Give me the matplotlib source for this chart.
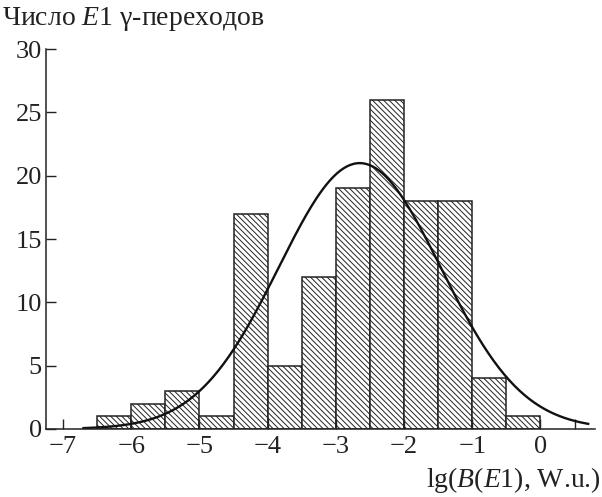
import numpy as np
import matplotlib
matplotlib.use('Agg')
import matplotlib.pyplot as plt

# histogram of lg(B(E1)) in bins of 0.5
bin_edges = [-6.5, -6.0, -5.5, -5.0, -4.5, -4.0, -3.5, -3.0, -2.5, -2.0, -1.5, -1.0, -0.5, 0.0]
counts = [1, 2, 3, 1, 17, 5, 12, 19, 26, 18, 18, 4, 1]

# fitted gaussian
fit_amp = 21.0
fit_mean = -2.65
fit_sigma = 1.19
fit_range = (-6.7, 0.7)

plt.rcParams['font.family'] = ['Liberation Serif', 'DejaVu Serif']
plt.rcParams['mathtext.fontset'] = 'custom'
plt.rcParams['mathtext.rm'] = 'Liberation Serif'
plt.rcParams['mathtext.it'] = 'Liberation Serif:italic'
plt.rcParams['hatch.linewidth'] = 0.7

fig = plt.figure(figsize=(6.02, 4.97), dpi=100)
ax = fig.add_axes([0.0764, 0.137, 0.912, 0.764])

left = bin_edges[:-1]
widths = np.diff(bin_edges)
ax.bar(left, counts, width=widths, align='edge', color='white',
       edgecolor='#222222', linewidth=1.1, hatch='\\' * 6)

xs = np.linspace(fit_range[0], fit_range[1], 300)
ys = fit_amp * np.exp(-(xs - fit_mean) ** 2 / (2 * fit_sigma ** 2))
ax.plot(xs, ys, color='#111111', linewidth=1.7)

ax.set_xlim(-7.25, 0.8)
ax.set_ylim(0, 30)
ax.set_xticks(range(-7, 1))
ax.set_xticklabels(['\u2212%d' % abs(v) if v < 0 else '0' for v in range(-7, 1)])
ax.set_xticks([0.5], minor=True)
ax.set_yticks(range(0, 31, 5))

for s in ['top', 'right']:
    ax.spines[s].set_visible(False)
for s in ['left', 'bottom']:
    ax.spines[s].set_linewidth(1.1)
    ax.spines[s].set_color('#222222')

ax.tick_params(axis='both', which='both', direction='in', length=7, width=1.0,
               labelsize=19, colors='#222222')
ax.tick_params(axis='x', pad=5)
ax.tick_params(axis='y', pad=3)

fig.text(0.004, 0.99, r'Число $E$1 γ-переходов', fontsize=20, ha='left', va='top', color='#222222')
fig.text(0.999, 0.035, r'lg($B$($E$1), W.u.)', fontsize=20, ha='right', va='center', color='#222222')

fig.savefig('out.png', dpi=100)
